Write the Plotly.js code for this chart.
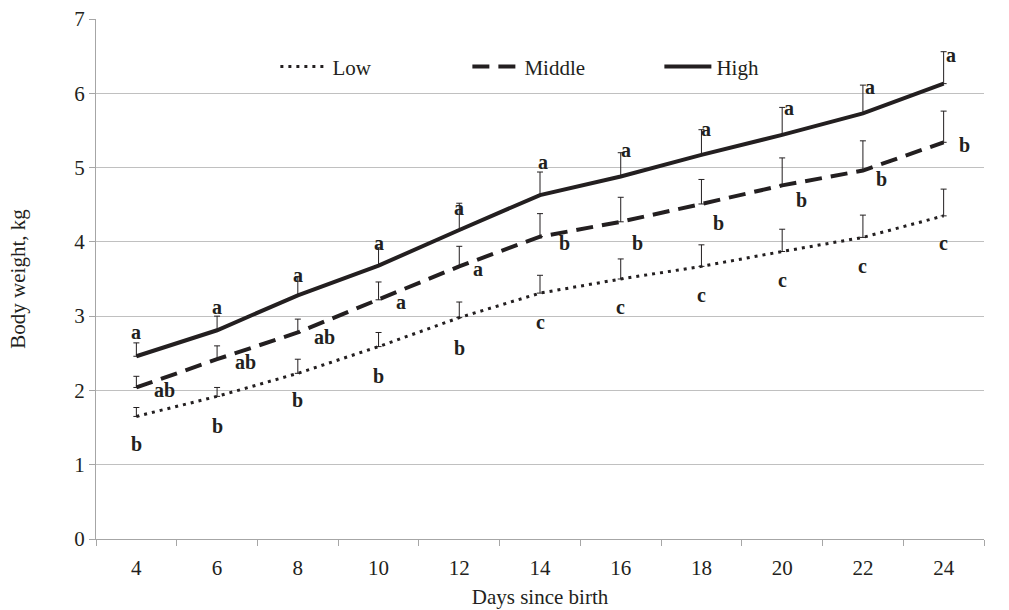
<!DOCTYPE html>
<html><head><meta charset="utf-8">
<script src="https://cdn.plot.ly/plotly-3.0.1.min.js"></script>
<style>html,body{margin:0;padding:0;background:#fff;} #chart{width:1009px;height:610px;}</style>
</head><body><div id="chart"></div>
<script>
// ---- data ----
const days = ['4','6','8','10','12','14','16','18','20','22','24'];
const lowMean  = [1.65,1.92,2.23,2.59,2.98,3.31,3.50,3.67,3.87,4.06,4.35];
const lowSE    = [0.12,0.12,0.19,0.19,0.21,0.24,0.27,0.29,0.30,0.30,0.36];
const midMean  = [2.04,2.42,2.78,3.22,3.67,4.07,4.27,4.51,4.76,4.96,5.34];
const midSE    = [0.15,0.18,0.18,0.24,0.27,0.31,0.33,0.33,0.37,0.40,0.42];
const highMean = [2.46,2.81,3.28,3.68,4.16,4.63,4.88,5.17,5.44,5.73,6.13];
const highSE   = [0.18,0.19,0.25,0.24,0.36,0.31,0.32,0.34,0.37,0.38,0.43];
const lowLetters  = ['b','b','b','b','b','c','c','c','c','c','c'];
const midLetters  = ['ab','ab','ab','a','a','b','b','b','b','b','b'];
const highLetters = ['a','a','a','a','a','a','a','a','a','a','a'];

// ---- label placement (pixel offsets from each point) ----
const lowShift  = [[0,-28],[0,-30],[0,-27],[0,-29],[0,-30],[0,-29],[0,-28],[0,-29],[0,-28],[0,-29],[0,-27]];
const midShift  = [[28,-3],[28,-3],[27,-5],[22,-2],[19,-3],[24,-6],[17,-21],[17,-19],[19,-15],[19,-8],[21,-3]];
const highShift = [[0,24],[0,23],[0,20],[0,23],[0,22],[3,33],[5,26],[5,26],[7,27],[7,26],[7,29]];

const ink = '#231f20';
const font = 'Liberation Serif, Times New Roman, serif';

function series(name, y, se, dash, width) {
  return {
    type: 'scatter', mode: 'lines', name: name, x: days, y: y,
    line: {color: ink, width: width, dash: dash},
    error_y: {type: 'data', symmetric: false, array: se, color: ink, thickness: 1, width: 3},
    hoverinfo: 'x+y'
  };
}
const traces = [
  series('Low', lowMean, lowSE, '3px,5px', 3),
  series('Middle', midMean, midSE, '17px,9px', 4),
  series('High', highMean, highSE, 'solid', 4)
];

const annotations = [];
function addLabels(vals, letters, shifts) {
  vals.forEach((v, i) => annotations.push({
    x: i, y: v, xref: 'x', yref: 'y', text: '<b>' + letters[i] + '</b>',
    showarrow: false, xshift: shifts[i][0], yshift: shifts[i][1],
    font: {family: font, size: 20, color: ink}
  }));
}
addLabels(lowMean, lowLetters, lowShift);
addLabels(midMean, midLetters, midShift);
addLabels(highMean, highLetters, highShift);

const layout = {
  width: 1009, height: 610,
  margin: {l: 96, r: 25, t: 19, b: 71},
  paper_bgcolor: '#fff', plot_bgcolor: '#fff',
  font: {family: font, size: 21, color: ink},
  showlegend: true,
  legend: {orientation: 'h', x: 0.202, xanchor: 'left', y: 0.908, yanchor: 'middle',
           itemwidth: 47, entrywidth: 130, font: {family: font, size: 21, color: ink},
           bgcolor: 'rgba(0,0,0,0)'},
  xaxis: {
    type: 'category', range: [-0.5, 10.5], tickson: 'boundaries',
    ticks: 'outside', ticklen: 6, tickcolor: '#a6a6a6', tickwidth: 1,
    showline: true, linecolor: '#a6a6a6', linewidth: 1, showgrid: false,
    ticklabelstandoff: 10,
    title: {text: 'Days since birth', standoff: 10, font: {family: font, size: 21, color: ink}},
    tickfont: {family: font, size: 21, color: ink}, fixedrange: true
  },
  yaxis: {
    range: [0, 7], dtick: 1, tick0: 0,
    ticks: 'outside', ticklen: 6, tickcolor: '#a6a6a6', tickwidth: 1,
    showline: true, linecolor: '#a6a6a6', linewidth: 1,
    showgrid: true, gridcolor: '#c0c0c0', gridwidth: 1, zeroline: false,
    title: {text: 'Body weight, kg', standoff: 42, font: {family: font, size: 21, color: ink}},
    tickfont: {family: font, size: 21, color: ink}, fixedrange: true
  },
  annotations: annotations
};
Plotly.newPlot('chart', traces, layout, {displayModeBar: false, staticPlot: true});
</script>
</body></html>
